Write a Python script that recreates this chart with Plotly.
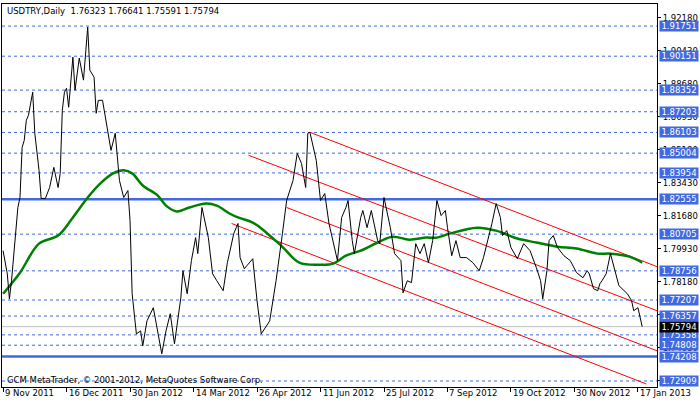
import plotly.graph_objects as go

# USDTRY daily closes, bar index from 9 Nov 2011
bars = [0, 2, 3, 4, 7, 8, 9, 10, 11, 12, 14, 15, 17, 18, 20, 22, 24, 26, 27, 28, 29, 30, 31, 33, 34,
        36, 38, 40, 41, 43, 44, 45, 47, 48, 51, 53, 55, 57, 59, 60, 61, 63, 65, 66, 68, 71, 73, 75, 77,
        79, 81, 84, 85, 87, 89, 91, 92, 94, 97, 99, 101, 104, 106, 109, 111, 112, 114, 118, 120, 122,
        126, 129, 132, 134, 137, 139, 141, 143, 144, 145, 148, 150, 152, 154, 158, 160, 162, 163, 165,
        166, 169, 170, 172, 174, 177, 178, 180, 183, 185, 188, 189, 191, 193, 195, 197, 199, 201, 203,
        205, 207, 209, 210, 212, 214, 216, 219, 222, 225, 227, 229, 231, 233, 235, 236, 238, 240, 243,
        246, 249, 252, 254, 255, 257, 258, 260, 262, 265, 268, 271, 274, 276, 277, 279, 281, 282, 283,
        285, 287, 289, 291, 295, 297, 298, 300, 302]
closes = [1.7983, 1.7860, 1.7727, 1.7823, 1.8212, 1.8265, 1.8531, 1.8568, 1.8675, 1.8701, 1.8824,
          1.8606, 1.8409, 1.8260, 1.8260, 1.8318, 1.8425, 1.8318, 1.8393, 1.8728, 1.8824, 1.8845,
          1.8744, 1.9010, 1.8834, 1.9005, 1.8888, 1.9170, 1.8941, 1.8904, 1.8712, 1.8781, 1.8781,
          1.8712, 1.8515, 1.8606, 1.8355, 1.8265, 1.8302, 1.8143, 1.7754, 1.7541, 1.7557, 1.7477,
          1.7610, 1.7680, 1.7557, 1.7435, 1.7557, 1.7648, 1.7488, 1.7733, 1.7876, 1.7754, 1.7930,
          1.8052, 1.7967, 1.8212, 1.8052, 1.7860, 1.7823, 1.7770, 1.7919, 1.8073, 1.8127, 1.7946,
          1.7887, 1.7940, 1.7717, 1.7541, 1.7610, 1.7823, 1.8073, 1.8249, 1.8355, 1.8499, 1.8446,
          1.8318, 1.8606, 1.8611, 1.8462, 1.8249, 1.8286, 1.8127, 1.7930, 1.8159, 1.8212, 1.8249,
          1.8036, 1.7967, 1.8159, 1.8196, 1.8105, 1.8196, 1.8036, 1.8020, 1.8265, 1.8105, 1.7967,
          1.7930, 1.7759, 1.7823, 1.7813, 1.8020, 1.7967, 1.8020, 1.7919, 1.8036, 1.8249, 1.8169,
          1.8196, 1.8105, 1.7956, 1.8036, 1.7946, 1.7946, 1.7919, 1.7876, 1.7946, 1.8036, 1.8127,
          1.8233, 1.8159, 1.8063, 1.8089, 1.7999, 1.7940, 1.8020, 1.7983, 1.7892, 1.7823, 1.7727,
          1.7876, 1.8036, 1.8063, 1.7999, 1.7956, 1.7930, 1.7866, 1.7839, 1.7876, 1.7860, 1.7781,
          1.7770, 1.7807, 1.7823, 1.7860, 1.7967, 1.7876, 1.7797, 1.7754, 1.7717, 1.7664, 1.7680,
          1.75794]

# moving average
ma_bars = [0, 8, 17, 26, 33, 40, 46, 52, 57, 61, 66, 73, 77, 82, 88, 96, 101, 107, 111, 118, 125,
           132, 140, 150, 156, 162, 169, 177, 184, 192, 200, 205, 211, 224, 233, 243, 252, 262, 271,
           281, 287, 296, 302]
ma_vals = [1.7754, 1.7866, 1.8020, 1.8063, 1.8159, 1.8265, 1.8340, 1.8393, 1.8409, 1.8393, 1.8329,
           1.8276, 1.8222, 1.8191, 1.8212, 1.8233, 1.8222, 1.8180, 1.8159, 1.8132, 1.8073, 1.8003,
           1.7919, 1.7908, 1.7914, 1.7956, 1.7983, 1.8026, 1.8057, 1.8041, 1.8052, 1.8052, 1.8073,
           1.8105, 1.8089, 1.8047, 1.8026, 1.8004, 1.7994, 1.7967, 1.7967, 1.7951, 1.7919]

# channel lines: (bar0, price0, bar1, price1)
channels = [(145, 1.8611, 309, 1.7898),
            (116, 1.8489, 309, 1.7664),
            (134, 1.8212, 309, 1.7451),
            (108, 1.8127, 304, 1.7275)]

dashed_levels = [1.91751, 1.90151, 1.88352, 1.87203, 1.86103, 1.85004, 1.83954, 1.80705,
                 1.78756, 1.77207, 1.76357, 1.75358, 1.74808, 1.72909]
solid_levels = [1.82555, 1.74208]
last_price = 1.75794

axis_ticks = [1.92180, 1.90430, 1.88680, 1.86930, 1.85180, 1.83430, 1.81680, 1.79930,
              1.78180, 1.76430, 1.74680, 1.72930]
date_ticks = [0, 30, 60, 90, 120, 150, 180, 210, 240, 270, 300]
date_labels = ["9 Nov 2011", "16 Dec 2011", "30 Jan 2012", "14 Mar 2012", "26 Apr 2012",
               "11 Jun 2012", "25 Jul 2012", "7 Sep 2012", "19 Oct 2012", "30 Nov 2012",
               "17 Jan 2013"]

FONT = "DejaVu Sans"
FS = 8.5
BLUE = "#4169E1"
fig = go.Figure()

for lv in dashed_levels:
    fig.add_hline(y=lv, line=dict(color=BLUE, width=1, dash="3px,3px"), layer="below")
for lv in solid_levels:
    fig.add_hline(y=lv, line=dict(color=BLUE, width=2.5), layer="below")
fig.add_hline(y=last_price, line=dict(color="#c0c0c0", width=1), layer="below")

for b0, p0, b1, p1 in channels:
    fig.add_trace(go.Scatter(x=[b0, b1], y=[p0, p1], mode="lines",
                             line=dict(color="red", width=1), showlegend=False))

fig.add_trace(go.Scatter(x=ma_bars, y=ma_vals, mode="lines",
                         line=dict(color="green", width=2.5, shape="spline"), showlegend=False))
fig.add_trace(go.Scatter(x=bars, y=closes, mode="lines", line=dict(color="black", width=1),
                         showlegend=False))

anns = []
for lv in dashed_levels + solid_levels:
    anns.append(dict(x=1, xref="paper", y=lv, yref="y", xanchor="left", yanchor="middle",
                     text=f"{lv:.5f}", showarrow=False, bgcolor=BLUE, width=38,
                     font=dict(color="white", size=FS, family=FONT), borderpad=0, xshift=2))
anns.append(dict(x=1, xref="paper", y=last_price, yref="y", xanchor="left", yanchor="middle",
                 text=f"{last_price:.5f}", showarrow=False, bgcolor="black", width=38,
                 font=dict(color="white", size=FS, family=FONT), borderpad=0, xshift=2))
for t, lab in zip(date_ticks, date_labels):
    anns.append(dict(x=t, xref="x", y=0, yref="paper", xanchor="left", yanchor="top",
                     text=lab, showarrow=False, yshift=1, xshift=0,
                     font=dict(color="black", size=FS, family=FONT)))
anns.append(dict(x=0.005, xref="paper", y=1, yref="paper", xanchor="left", yanchor="top",
                 text="USDTRY,Daily  1.76323 1.76641 1.75591 1.75794", showarrow=False,
                 font=dict(color="black", size=FS, family=FONT)))
anns.append(dict(x=0.005, xref="paper", y=0, yref="paper", xanchor="left", yanchor="bottom",
                 text="GCM MetaTrader, © 2001-2012, MetaQuotes Software Corp.", showarrow=False,
                 font=dict(color="black", size=FS, family=FONT)))

fig.update_layout(
    width=700, height=402,
    margin=dict(l=2, r=43, t=4, b=15),
    paper_bgcolor="white", plot_bgcolor="white",
    annotations=anns,
    xaxis=dict(range=[-0.5, 309], showgrid=False, zeroline=False, tickvals=date_ticks,
               showticklabels=False, ticks="outside", ticklen=4, tickcolor="black",
               showline=True, linecolor="black", mirror=True),
    yaxis=dict(range=[1.72590, 1.92922], side="right", showgrid=False, zeroline=False,
               tickvals=axis_ticks, ticktext=[f"{v:.5f}" for v in axis_ticks],
               ticks="outside", ticklen=3, tickcolor="black",
               tickfont=dict(size=FS, family=FONT, color="black"),
               showline=True, linecolor="black", mirror=True),
)

# drop the default page margin so the figure sits at the window's top-left corner
fig.write_html("out.html", config={"displayModeBar": False},
               post_script="document.body.style.margin='0';document.body.style.overflow='hidden';")
